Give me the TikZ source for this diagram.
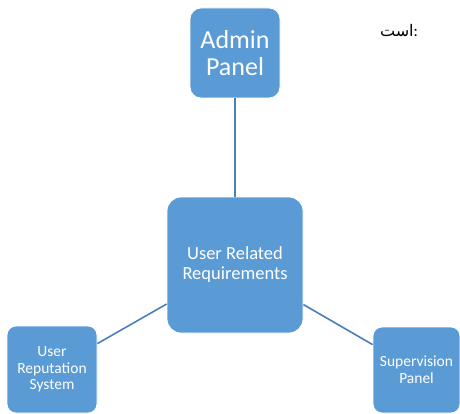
\documentclass[tikz,border=0pt]{standalone}
\usepackage{fontspec}
\setmainfont{Carlito}
\newfontfamily\persianfont[Script=Arabic]{DejaVu Sans}
\TeXXeTstate=1
\definecolor{smartblue}{HTML}{5B9BD5}
\definecolor{linkblue}{HTML}{4A7EBB}

\begin{document}
\begin{tikzpicture}[
        x=1pt, y=-1pt,
        box/.style={draw=white, line width=0.8pt, fill=smartblue, text=white, rectangle, align=center, inner sep=1pt},
        link/.style={draw=linkblue, line width=1.6pt}
    ]
        \useasboundingbox (0,0) rectangle (460,414);

        \node[box, rounded corners=11pt, minimum width=90pt, minimum height=90pt,
              font=\fontsize{26}{27}\selectfont] (admin) at (235,53) {Admin\\Panel};
        \node[box, rounded corners=14pt, minimum width=136pt, minimum height=136pt,
              font=\fontsize{18.5}{20}\selectfont] (center) at (235,265) {User Related\\Requirements};
        \node[box, rounded corners=9pt, minimum width=90pt, minimum height=87pt,
              font=\fontsize{15.5}{16.7}\selectfont] (reputation) at (52,369.5) {User\\Reputation\\System};
        \node[box, rounded corners=9pt, minimum width=87pt, minimum height=86pt,
              font=\fontsize{15.5}{16.7}\selectfont] (supervision) at (416.5,370) {Supervision\\Panel};

        \node[font=\fontsize{16}{18}\selectfont, inner sep=0pt] (caption) at (399,31) {{\persianfont\beginR است\endR}:};

        \draw[link] (admin) -- (center);
        \draw[link] (center) -- (reputation);
        \draw[link] (center) -- (supervision);
    \end{tikzpicture}
\end{document}
